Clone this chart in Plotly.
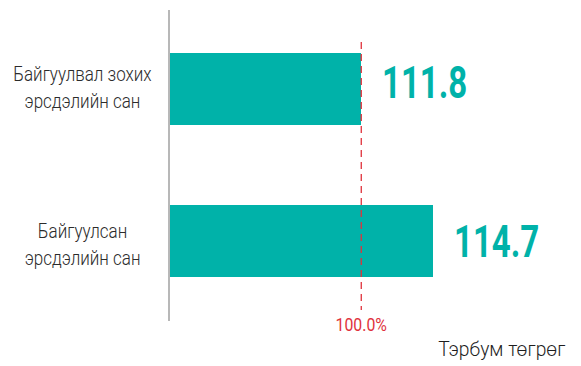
import json
import plotly.graph_objects as go

categories = ["Байгуулвал зохих<br>эрсдэлийн сан", "Байгуулсан<br>эрсдэлийн сан"]
values = [111.8, 114.7]
value_labels = ["111.8", "114.7"]
reference_value = 111.8
reference_label = "100.0%"
unit_label = "Тэрбум төгрөг"

teal = "#00b2a9"
red = "#e0323c"
font_family = "Roboto, sans-serif"

fig = go.Figure()
fig.add_trace(go.Bar(
    y=list(range(len(categories))), x=values, orientation="h",
    marker=dict(color=teal, line=dict(width=0)),
    width=0.474, hoverinfo="skip",
))

scales = []  # (scaleX, origin) per annotation, in order

value_yshift = [6, -1]
for i, (v, lab) in enumerate(zip(values, value_labels)):
    fig.add_annotation(x=v, y=i, text=lab, showarrow=False, xanchor="left", yanchor="middle",
                       xshift=19, yshift=value_yshift[i],
                       font=dict(family=font_family, size=44, color=teal, weight="bold"))
    scales.append([0.75, "left center"])

cat_yshift = [2, -3]
for i, c in enumerate(categories):
    fig.add_annotation(x=0, xref="paper", y=i, text=c, showarrow=False, xanchor="center",
                       yanchor="middle", align="center", xshift=-88, yshift=cat_yshift[i],
                       font=dict(family=font_family, size=21, color="#2b2b2b", weight=300))
    scales.append([0.81, "center"])

fig.add_shape(type="line", x0=reference_value, x1=reference_value, xref="x",
              y0=-0.31, y1=1.454, yref="y", line=dict(color=red, width=1.3, dash="7px,5px"))
fig.add_annotation(x=reference_value, y=0, yref="paper", text=reference_label, showarrow=False,
                   xanchor="center", yanchor="top", yshift=9,
                   font=dict(family=font_family, size=18, color=red, weight=400))
scales.append([0.88, "center"])
fig.add_annotation(x=1, xref="paper", y=0, yref="paper", text=unit_label, showarrow=False,
                   xanchor="right", yanchor="top", yshift=-14, xshift=8,
                   font=dict(family=font_family, size=21, color="#1e1e1e", weight=300))
scales.append([0.92, "right center"])

fig.update_layout(
    width=581, height=366,
    margin=dict(l=170, r=21, t=10, b=45),
    paper_bgcolor="white", plot_bgcolor="white",
    showlegend=False, bargap=0,
    xaxis=dict(range=[104.1, 119.8], visible=False, fixedrange=True),
    yaxis=dict(range=[1.526, -0.52], showticklabels=False, showgrid=False, zeroline=False,
               showline=True, linecolor="#b8b8b8", linewidth=1.5, ticks="", fixedrange=True),
)

post = """
document.body.style.margin='0';document.body.style.overflow='hidden';
var sc = %s;
var anns = document.querySelectorAll('g.annotation');
anns.forEach(function(g, i){
  var t = g.querySelector('text.annotation-text');
  if (!t || !sc[i]) return;
  t.style.transformBox = 'fill-box';
  t.style.transformOrigin = sc[i][1];
  t.style.transform = 'scaleX(' + sc[i][0] + ')';
});
""" % json.dumps(scales)

fig.write_html("out.html", config={"displayModeBar": False}, post_script=post)
